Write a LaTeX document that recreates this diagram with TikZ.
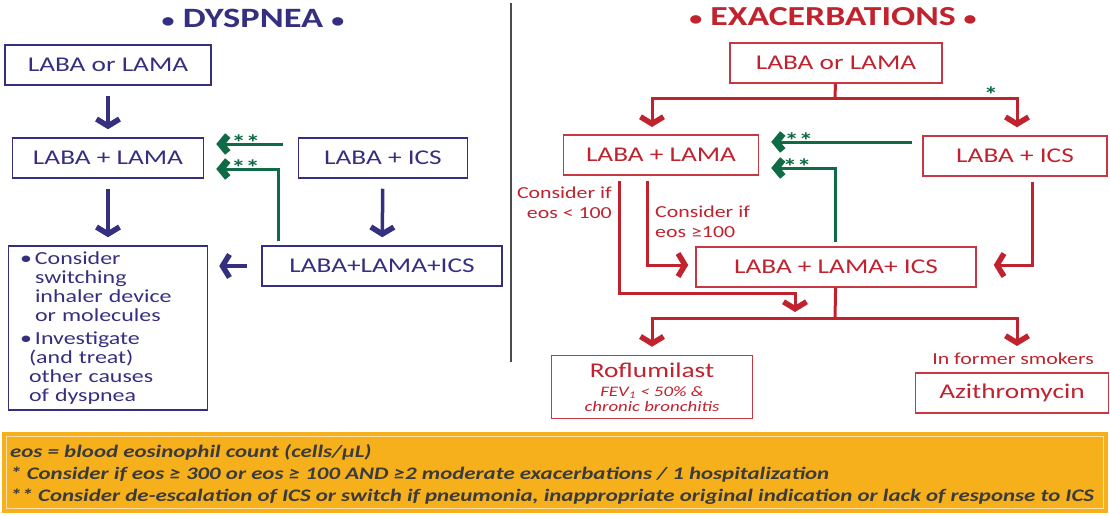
\documentclass[tikz,border=0pt]{standalone}
\usepackage{fontspec}
\setmainfont{Carlito}[FakeStretch=1.3]
\usetikzlibrary{arrows.meta,calc}
\definecolor{dblue}{HTML}{352F80}
\definecolor{xred}{HTML}{C0222E}
\definecolor{ggreen}{HTML}{0F6B45}
\definecolor{fnote}{HTML}{F6B01C}
\definecolor{ftext}{HTML}{3B3B3B}
\newcommand{\tbul}{{\fontsize{20}{20}\selectfont•}}

\begin{document}
\begin{tikzpicture}[x=1pt,y=-1pt,
    chev/.tip={Straight Barb[length=7pt,width=23pt,line width=5.5pt]},
    gchev/.tip={Straight Barb[length=7pt,width=17pt,line width=7pt]},
    dbox/.style={draw=dblue,line width=1.5pt,text=dblue,font=\fontsize{21}{24}\selectfont,inner sep=0pt},
    xbox/.style={draw=xred!90,line width=1.5pt,text=xred,font=\fontsize{21}{24}\selectfont,inner sep=0pt},
    darrow/.style={draw=dblue,line width=3.5pt,-chev,shorten <=10pt,shorten >=8pt},
    xarrow/.style={draw=xred,line width=3pt,-chev},
    xline/.style={draw=xred,line width=3pt},
    garrow/.style={draw=ggreen,line width=3pt,-gchev},
    gstar/.style={text=ggreen,font=\bfseries\fontsize{22}{22}\selectfont,inner sep=0pt},
    xnote/.style={text=xred,font=\fontsize{16.8}{20}\selectfont,inner sep=0pt}]

    \useasboundingbox (0,0) rectangle (1110,516);

    \node[text=dblue,font=\bfseries\fontsize{28}{30}\selectfont] (dtitle) at (253,18) {\tbul\ DYSPNEA \tbul};
    \node[text=xred,font=\bfseries\fontsize{27.5}{30}\selectfont] (xtitle) at (833,17) {\tbul\ EXACERBATIONS \tbul};
    \draw[line width=2pt,draw=black!70] (511,3) -- (511,362);

    \node[dbox,minimum width=206pt,minimum height=40pt] (dlo) at (108,65) {LABA or LAMA};
    \node[dbox,minimum width=191pt,minimum height=40pt] (dll) at (108,158) {LABA + LAMA};
    \node[dbox,minimum width=169pt,minimum height=40pt] (dli) at (383,158) {LABA + ICS};
    \node[dbox,minimum width=240pt,minimum height=40pt] (dall) at (382,266) {LABA+LAMA+ICS};
    \node[dbox,minimum width=199pt,minimum height=164pt,text width=176pt,align=left,
        font=\fontsize{18.4}{19}\selectfont] (dcons) at (108,328)
        {\makebox[15pt][l]{•}Consider\\
         \hspace*{15pt}switching\\
         \hspace*{15pt}inhaler device\\
         \hspace*{15pt}or molecules\\[4pt]
         \makebox[15pt][l]{•}Investigate\\
         \hspace*{9pt}(and treat)\\
         \hspace*{9pt}other causes\\
         \hspace*{9pt}of dyspnea};

    \draw[darrow] (dlo) -- (dll);
    \draw[darrow] (dll) -- (dcons);
    \draw[darrow] (dli) -- (dall);
    \draw[darrow,shorten <=14pt,shorten >=11pt] (dall.west) -- (dall.west -| dcons.east);

    \coordinate (dg1) at (283,144);
    \coordinate (dg2) at (278,169);
    \draw[garrow,shorten >=12pt] (dg1) -- node[gstar,pos=0.47,above=-8pt] (ds1) {**} (dg1 -| dll.east);
    \draw[garrow,shorten <=4pt,shorten >=12pt] (dall.north -| dg2) -- (dg2)
        -- node[gstar,pos=0.44,above=-8pt] (ds2) {**} (dg2 -| dll.east);

    \node[xbox,minimum width=212pt,minimum height=40pt] (xlo) at (836,63) {LABA or LAMA};
    \node[xbox,minimum width=195pt,minimum height=40pt] (xll) at (661,155) {LABA + LAMA};
    \node[xbox,minimum width=184pt,minimum height=40pt] (xli) at (1015,156) {LABA + ICS};
    \node[xbox,minimum width=280pt,minimum height=40pt] (xall) at (836,267) {LABA + LAMA+ ICS};
    \node[xbox,minimum width=201pt,minimum height=63pt,align=center,
        font=\fontsize{14.5}{15}\selectfont\itshape] (xrof) at (652,387)
        {{\upshape\fontsize{21}{21}\selectfont Roflumilast}\\[4pt]FEV\textsubscript{1} < 50\% \&\\chronic bronchitis};
    \node[xnote] (xsmk) at (1013,359) {In former smokers};
    \node[xbox,minimum width=193pt,minimum height=40pt] (xazi) at (1012,393) {Azithromycin};

    \node[xnote,anchor=east,align=right] (xlow) at (612,203) {Consider if\\eos < 100};
    \node[xnote,anchor=west,align=left] (xhigh) at (655,222) {Consider if\\eos ≥100};

    \coordinate (xj1) at (835,99);
    \coordinate (xj2) at (835,318);
    \coordinate (xa) at (619,293);
    \coordinate (xb) at (647,265);
    \coordinate (xc) at (795,293);
    \coordinate (xd) at (1032,265);

    \draw[xline] (xlo) -- (xj1);
    \draw[xarrow,shorten >=8pt] (xj1) -| (652,135);
    \draw[xarrow,shorten >=8pt] (xj1) -| (xli.north -| 1017,0);
    \node[gstar] (xst) at (991,95) {*};

    \draw[xarrow] (xll.south -| xa) ++(0,5) -- (xa) -- (xc) -- ($(xc |- xj2)+(0,-6)$);
    \draw[xarrow,shorten >=7pt] ([yshift=-5pt]xll.south -| xb) -- (xb) -- (xb -| xall.west);
    \draw[xarrow,shorten >=17pt] ([yshift=-5pt]xli.south -| xd) -- (xd) -- (xd -| xall.east);

    \draw[xline] (xall) -- (xj2);
    \draw[xarrow,shorten >=8pt] (xj2) -| (xrof);
    \draw[xarrow,shorten >=4pt] (xj2) -| (1017,350);

    \coordinate (xg1) at (912,142);
    \coordinate (xg2) at (835,168);
    \draw[garrow,shorten >=12pt] (xg1) -- node[gstar,pos=0.74,above=-8pt] (xs1) {**} (xg1 -| xll.east);
    \draw[garrow,shorten <=4pt,shorten >=12pt] (xall.north -| xg2) -- (xg2)
        -- node[gstar,pos=0.5,above=-8pt] (xs2) {**} (xg2 -| xll.east);

    \node[fill=fnote,minimum width=1106pt,minimum height=81pt,inner sep=0pt] (foot) at (555,472.5) {};
    \draw[white!60!fnote,line width=1pt] ($(foot.north west)+(5,5)$) rectangle ($(foot.south east)+(-5,-5)$);
    \node[anchor=west,align=left,text=ftext,inner sep=0pt,
        font=\bfseries\itshape\fontsize{17.6}{22}\selectfont] (ftxt) at (10,474)
        {eos = blood eosinophil count (cells/µL)\\
         * Consider if eos ≥ 300 or eos ≥ 100 AND ≥2 moderate exacerbations / 1 hospitalization\\
         ** Consider de-escalation of ICS or switch if pneumonia, inappropriate original indication or lack of response to ICS};

\end{tikzpicture}
\end{document}
